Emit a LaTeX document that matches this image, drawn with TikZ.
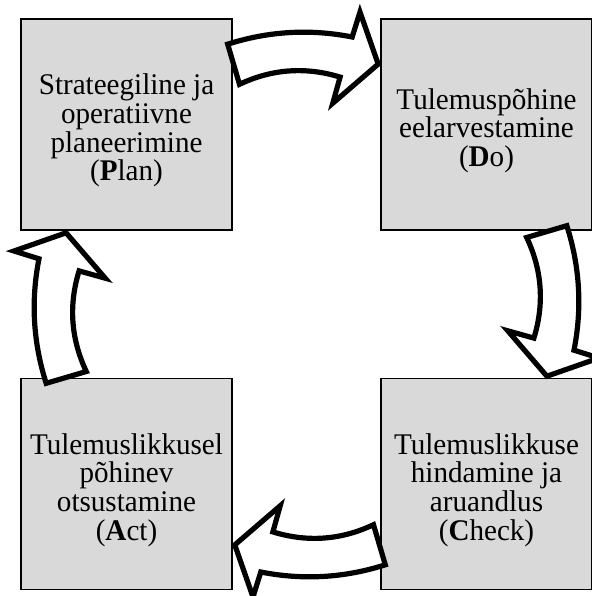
\documentclass[tikz,border=0pt]{standalone}
\usepackage{fontspec}
\setmainfont{Liberation Serif}[FakeStretch=0.97]
\definecolor{boxgray}{RGB}{217,217,217}
\tikzset{
  phase/.style={draw=black, line width=0.6pt, fill=boxgray, minimum width=105.5pt,
    minimum height=105.5pt, inner sep=0pt},
  phasetext/.style={align=center, inner sep=0pt, yshift=-3pt,
    font=\fontsize{15}{14.3}\selectfont},
  cyclearrow/.style={draw=black, fill=white, line width=2.6pt, line join=miter}
}
\begin{document}
\begin{tikzpicture}[x=0.5pt,y=0.5pt]
\useasboundingbox (-306.5,-291.5) rectangle (285.5,304.5);
\node[phase] (plan) at (-180,180) {};
\node[phase] (do) at (180,180) {};
\node[phase] (check) at (180,-179.5) {};
\node[phase] (act) at (-180,-179.5) {};
\node[phasetext] (plantext) at (plan) {Strateegiline ja\\operatiivne\\planeerimine\\(\textbf{P}lan)};
\node[phasetext] (dotext) at (do) {Tulemuspõhine\\eelarvestamine\\(\textbf{D}o)};
\node[phasetext] (checktext) at (check) {Tulemuslikkuse\\hindamine ja\\aruandlus\\(\textbf{C}heck)};
\node[phasetext] (acttext) at (act) {Tulemuslikkusel\\põhinev\\otsustamine\\(\textbf{A}ct)};
\foreach \a in {0,-90,-180,-270}
  \draw[cyclearrow, rotate=\a] (-78.8,260.3) .. controls (-37.9,273.4) and (3.6,275.8) .. (45.7,267.5)
    -- (53.5,292.5) -- (71.7,240.4) -- (26.3,201.3) -- (33.6,227.4)
    .. controls (-0.8,238) and (-34.4,235.6) .. (-67,220.2) -- cycle;
\end{tikzpicture}
\end{document}
